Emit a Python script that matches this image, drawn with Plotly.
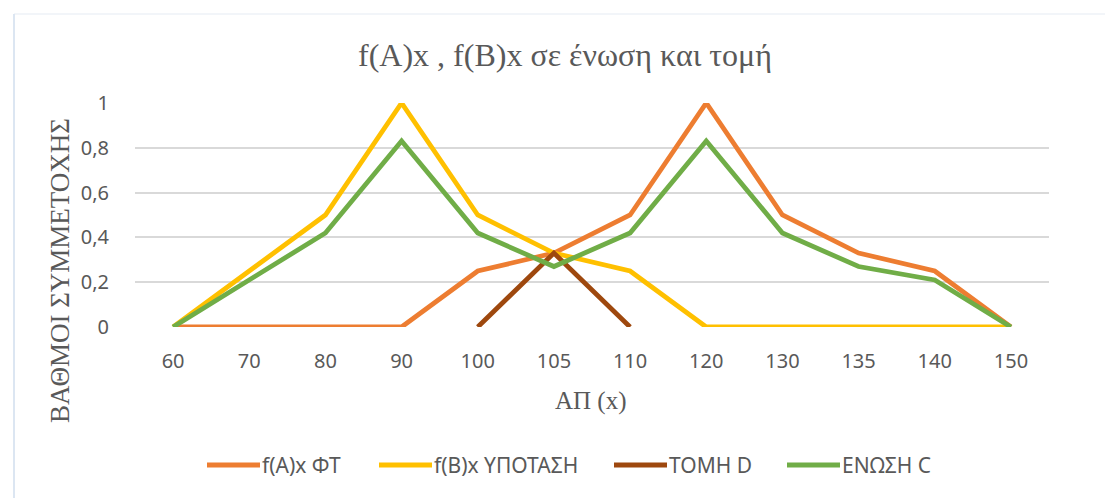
import plotly.graph_objects as go

categories = ["60", "70", "80", "90", "100", "105", "110", "120", "130", "135", "140", "150"]
fa_ft = [0, 0, 0, 0, 0.25, 0.33, 0.5, 1, 0.5, 0.33, 0.25, 0]
fb_ypotasi = [0, 0.25, 0.5, 1, 0.5, 0.33, 0.25, 0, 0, 0, 0, 0]
tomi_d = [None, None, None, None, 0, 0.33, 0, None, None, None, None, None]
enosi_c = [0, 0.21, 0.42, 0.83, 0.42, 0.27, 0.42, 0.83, 0.42, 0.27, 0.21, 0]

series_names = ["f(A)x ΦΤ", "f(B)x ΥΠΟΤΑΣΗ", "ΤΟΜΗ D", "ΕΝΩΣΗ C"]
series_values = [fa_ft, fb_ypotasi, tomi_d, enosi_c]
series_colors = ["#ED7D31", "#FFC000", "#9E480E", "#70AD47"]

W, H = 1105, 498
L, R, T, B = 135, 1049, 103, 327

fig = go.Figure()
for name, vals, col in zip(series_names, series_values, series_colors):
    fig.add_trace(go.Scatter(
        x=categories, y=vals, name=name, mode="lines",
        line=dict(color=col, width=4.8), cliponaxis=False, connectgaps=False,
        showlegend=False,
    ))

def px(x):
    return (x - L) / (R - L)

def py(y):
    return (B - y) / (B - T)

sans = "Noto Sans, Liberation Sans, sans-serif"
serif = "Liberation Serif, Times New Roman, serif"
txt = "#595959"

annotations = [
    dict(text="f(A)x , f(B)x σε ένωση και τομή", xref="paper", yref="paper",
         x=px(565), y=py(55), xanchor="center", yanchor="middle", showarrow=False,
         font=dict(family=serif, size=32, color=txt)),
    dict(text="ΒΑΘΜΟΙ ΣΥΜΜΕΤΟΧΗΣ", xref="paper", yref="paper",
         x=px(60), y=py(271), xanchor="center", yanchor="middle", showarrow=False,
         textangle=-90, font=dict(family=serif, size=27, color=txt)),
    dict(text="ΑΠ (x)", xref="paper", yref="paper",
         x=px(591), y=py(401), xanchor="center", yanchor="middle", showarrow=False,
         font=dict(family=serif, size=25, color=txt)),
]

shapes = [
    dict(type="line", xref="paper", yref="paper", x0=px(14), x1=px(1105), y0=py(14), y1=py(14),
         line=dict(color="#EEF2F7", width=1.5)),
    dict(type="line", xref="paper", yref="paper", x0=px(14), x1=px(14), y0=py(14), y1=py(498),
         line=dict(color="#DCE6F2", width=2)),
]

# manual legend (line sample + label) laid out like the reference
legend_line_starts = [205, 377, 612, 785]
legend_y = 465
for name, col, x0 in zip(series_names, series_colors, legend_line_starts):
    shapes.append(dict(type="line", xref="paper", yref="paper",
                       x0=px(x0 + 2), x1=px(x0 + 55), y0=py(legend_y), y1=py(legend_y),
                       line=dict(color=col, width=5)))
    annotations.append(dict(text=name, xref="paper", yref="paper",
                            x=px(x0 + 57), y=py(legend_y), xanchor="left", yanchor="middle",
                            showarrow=False, xshift=-2,
                            font=dict(family=sans, size=21, color=txt)))

fig.update_layout(
    width=W, height=H,
    margin=dict(l=L, r=W - R, t=T, b=H - B),
    paper_bgcolor="white", plot_bgcolor="white",
    separators=",.",
    showlegend=False,
    xaxis=dict(type="category", range=[-0.5, 11.5], showgrid=False, zeroline=False, showline=False,
               tickfont=dict(family=sans, size=20, color=txt), ticks="",
               ticklabelstandoff=20),
    yaxis=dict(range=[0, 1], dtick=0.2, showgrid=True, gridcolor="#D9D9D9", gridwidth=1.5,
               zeroline=False, showline=False,
               tickfont=dict(family=sans, size=20, color=txt), ticks="",
               ticklabelstandoff=25),
    annotations=annotations,
    shapes=shapes,
)

fig.write_html("out.html")
